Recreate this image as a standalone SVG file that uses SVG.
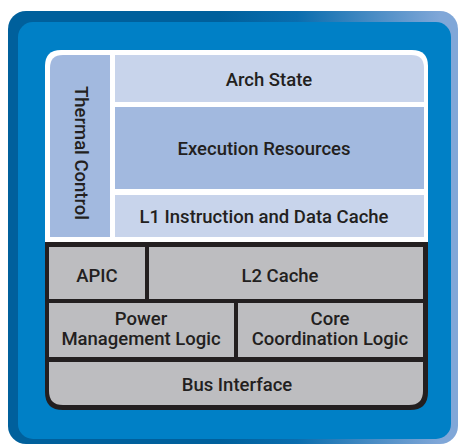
<svg xmlns="http://www.w3.org/2000/svg" width="458" height="445" viewBox="0 0 458 445">
  <defs>
    <linearGradient id="frameGrad" gradientUnits="userSpaceOnUse" x1="220" y1="0" x2="440" y2="0">
      <stop offset="0" stop-color="#00609c"/>
      <stop offset="0.35" stop-color="#0a6dae"/>
      <stop offset="1" stop-color="#80a7d8"/>
    </linearGradient>
  </defs>
  <style>
    .lbl { font-family: Roboto, "Liberation Sans", Arial, sans-serif; font-size: 18.5px; font-weight: 500; fill: #231f20; text-anchor: middle; }
    .mid { fill: #a2b9df; }
    .lite { fill: #c8d4eb; }
    .gray { fill: #bdbdc0; }
  </style>

  <g id="frame">
    <rect x="8" y="11" width="450" height="433" rx="18" fill="url(#frameGrad)"/>
    <rect x="18" y="22" width="433" height="417" rx="15" fill="#0080c6"/>
    <path d="M45,245 V66 Q45,50 61,50 H412 Q428,50 428,66 V245 Z" fill="#ffffff"/>
    <path d="M45,242 H428 V392 Q428,410 410,410 H63 Q45,410 45,392 Z" fill="#231f20"/>
  </g>

  <g id="thermal-control">
    <path class="mid" d="M50,237 V68 Q50,55 63,55 H110 V237 Z"/>
    <text class="lbl" transform="translate(75,153) rotate(90)">Thermal Control</text>
  </g>

  <g id="arch-state">
    <path class="lite" d="M115,55 H411 Q424,55 424,68 V102 H115 Z"/>
    <text class="lbl" x="269" y="86">Arch State</text>
  </g>

  <g id="execution-resources">
    <rect class="mid" x="115" y="107" width="309" height="82"/>
    <text class="lbl" x="264" y="155">Execution Resources</text>
  </g>

  <g id="l1-cache">
    <rect class="lite" x="115" y="195" width="309" height="42"/>
    <text class="lbl" x="264" y="223">L1 Instruction and Data Cache</text>
  </g>

  <g id="apic">
    <rect class="gray" x="49" y="247" width="96" height="52"/>
    <text class="lbl" x="97" y="282">APIC</text>
  </g>

  <g id="l2-cache">
    <rect class="gray" x="149" y="247" width="274" height="52"/>
    <text class="lbl" x="280" y="282">L2 Cache</text>
  </g>

  <g id="power-management">
    <rect class="gray" x="49" y="303" width="185" height="54"/>
    <text class="lbl" x="141" y="325">Power</text>
    <text class="lbl" x="141" y="345">Management Logic</text>
  </g>

  <g id="core-coordination">
    <rect class="gray" x="238" y="303" width="185" height="54"/>
    <text class="lbl" x="330" y="325">Core</text>
    <text class="lbl" x="330" y="345">Coordination Logic</text>
  </g>

  <g id="bus-interface">
    <path class="gray" d="M49,362 H423 V391 Q423,405 409,405 H63 Q49,405 49,391 Z"/>
    <text class="lbl" x="237" y="391">Bus Interface</text>
  </g>

  <g id="connectors"/>
</svg>
